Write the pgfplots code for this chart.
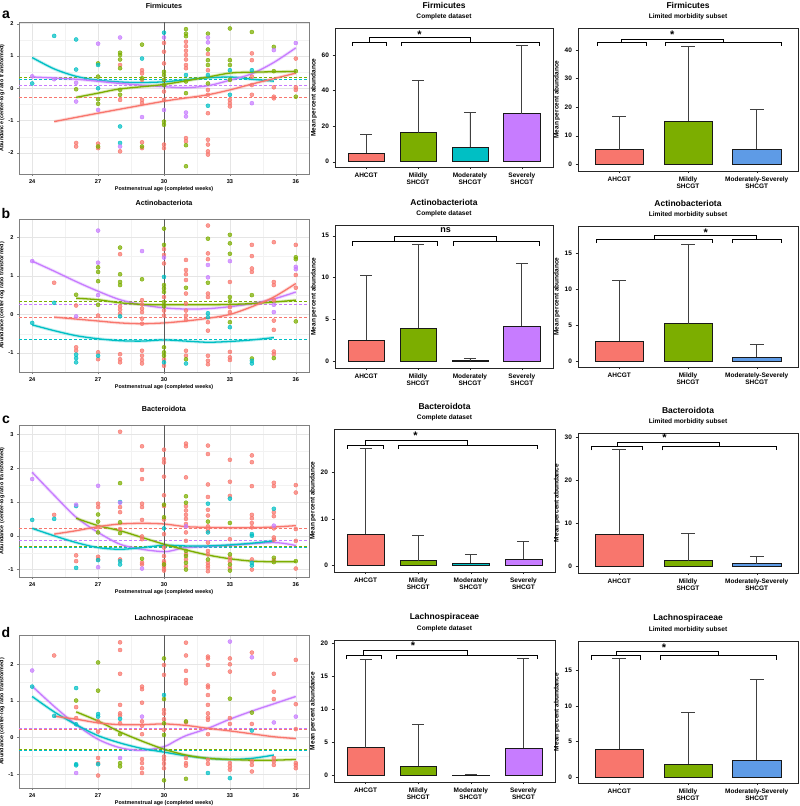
\documentclass[border=0pt]{standalone}
\usepackage{fontspec}
\setmainfont{Liberation Sans}
\usepackage{pgfplots}
\pgfplotsset{compat=1.18}

\definecolor{cR}{HTML}{F8766D}
\definecolor{cG}{HTML}{7CAE00}
\definecolor{cC}{HTML}{00BFC4}
\definecolor{cP}{HTML}{C77CFF}
\definecolor{cB}{HTML}{5E9BE6}

\pgfplotsset{
  sc/.style={
    scale only axis, width=290pt,
    xmin=23.4, xmax=36.6, xtick={24,27,30,33,36},
    minor x tick num=1, minor y tick num=1,
    grid=both, major grid style={black!10, line width=0.45pt},
    minor grid style={black!5, line width=0.3pt},
    axis line style={black!50}, tick style={black!50},
    tick align=outside, major tick length=2pt, minor tick length=0pt,
    xtick pos=left, ytick pos=left,
    tick label style={font=\fontsize{5.6}{6}\selectfont\bfseries},
    label style={font=\fontsize{5.4}{6}\selectfont\bfseries},
    xlabel={Postmenstrual age (completed weeks)},
    ylabel={Abundance (center-log ratio transformed)},
    xlabel style={yshift=4pt}, ylabel style={yshift=-3pt},
    title style={at={(0.5,1)}, anchor=center, yshift=10pt, font=\fontsize{7.2}{8}\selectfont\bfseries},
    /pgf/number format/assume math mode=true,
  },
  pt/.style={only marks, mark=*, mark size=2pt, mark options={draw=none, fill opacity=0.72}},
  cv/.style={smooth, line width=1.3pt, mark=none,
    preaction={draw, line width=3.2pt, draw opacity=0.25}},
  ds/.style={dash pattern=on 3pt off 2pt, line width=0.8pt, mark=none},
  vl/.style={black!65, line width=0.6pt, mark=none},
  bp/.style={
    scale only axis, ybar, bar width=0.7, clip=false,
    axis line style={black!85}, tick style={black!85},
    tick align=outside, major tick length=2.5pt,
    xtick pos=left, ytick pos=left,
    tick label style={font=\fontsize{6.5}{7}\selectfont\bfseries},
    xticklabel style={align=center},
    label style={font=\fontsize{6.5}{7}\selectfont\bfseries},
    ylabel={Mean percent abundance}, ylabel style={yshift=-2pt},
    /pgf/number format/assume math mode=true,
  },
  b4/.style={bp, xmin=0.4, xmax=4.6, xtick={1,2,3,4},
    xticklabels={AHCGT,{Mildly\\SHCGT},{Moderately\\SHCGT},{Severely\\SHCGT}}},
  b3/.style={bp, xmin=0.4, xmax=3.6, xtick={1,2,3},
    xticklabels={AHCGT,{Mildly\\SHCGT},{Moderately-Severely\\SHCGT}}},
  bb/.style={draw=black!90, line width=0.55pt, bar shift=0pt,
    error bars/y dir=plus, error bars/y explicit, error bars/error mark=|,
    error bars/error bar style={black!75, line width=0.8pt},
    error bars/error mark options={black!75, line width=0.8pt, mark size=#1}},
  brk/.style={sharp plot, black, line width=0.6pt, mark=none},
}
\newcommand{\brk}[4]{\addplot[brk] coordinates {(#1,#3)(#1,#4)(#2,#4)(#2,#3)};}
\newcommand{\ttl}[2]{%
  \node[font=\fontsize{8.5}{9}\selectfont\bfseries] at (rel axis cs:0.5,1) [yshift=23pt] {#1};
  \node[font=\fontsize{6.6}{7}\selectfont\bfseries] at (rel axis cs:0.5,1) [yshift=11pt] {#2};}
\newcommand{\sig}[3]{\node[font=\fontsize{11}{11}\selectfont\bfseries] at (axis cs:#1,#2) {#3};}

\begin{document}
\begin{tikzpicture}
\path[use as bounding box] (0pt,0pt) rectangle (800pt,806pt);
\node[font=\fontsize{14}{14}\selectfont\bfseries] at (6pt,791pt) {a};
\node[font=\fontsize{14}{14}\selectfont\bfseries] at (6pt,592pt) {b};
\node[font=\fontsize{14}{14}\selectfont\bfseries] at (6pt,386pt) {c};
\node[font=\fontsize{14}{14}\selectfont\bfseries] at (6pt,174pt) {d};

% ---------------- row a ----------------
\begin{axis}[sc, at={(19pt,632pt)}, anchor=south west, height=152pt,
  ymin=-2.65, ymax=2.05, ytick={-2,-1,0,1,2}, title={Firmicutes}]
\addplot[pt, cR] coordinates {(26,-1.69)(26,-1.8)(27,-1.71)(27,-1.85)(28,0.72)(28,-0.36)(28,-1.95)(29,0.56)(29,0.46)(29,0.26)(29,-0.36)(29,-0.46)(29,-1.67)(29,-1.85)(30,1.4)(30,1.13)(30,0.77)(30,-0.1)(30,-0.36)(30,-1.74)(30,-1.85)(31,1.44)(31,1.3)(31,1.16)(31,1.03)(31,0.89)(31,0.72)(31,0.62)(31,-1.54)(31,-1.64)(32,1.06)(32,0.56)(32,-0.05)(32,-0.2)(32,-0.77)(32,-1.59)(32,-1.74)(32,-1.95)(32,-2.05)(33,-0.36)(33,-0.46)(33,-0.56)(34,1.08)(34,0.87)(34,0.36)(34,0.1)(34,-0.2)(35,0.03)(35,-0.26)(35,-0.31)(36,0.92)(36,0.03)(36,-0.05)};
\addplot[pt, cG] coordinates {(26,-0.03)(27,0.77)(27,0.36)(27,-0.34)(27,-0.48)(27,-1.8)(28,1.1)(28,1.03)(28,0.89)(28,0.62)(28,-0.05)(28,-0.2)(29,1.35)(29,0.31)(29,-1.8)(30,0.51)(30,0.41)(30,0.26)(30,0.1)(30,-1.03)(30,-1.13)(31,1.83)(31,1.69)(31,1.61)(31,0.21)(31,-0.15)(31,-1.76)(31,-2.41)(32,1.69)(32,1.2)(32,0.87)(32,0.72)(32,0.15)(33,1.85)(33,0.87)(33,0.72)(33,0.26)(34,1.74)(35,1.28)(35,0.53)(36,0.53)(36,-0.26)};
\addplot[pt, cC] coordinates {(24,0.15)(25,1.62)(26,1.51)(26,0.58)(27,0.72)(27,0.0)(28,-1.18)(28,-1.69)(29,0.92)(30,1.72)(31,0.41)(32,0.41)(32,-0.54)(33,0.56)(33,-0.2)(34,0.56)};
\addplot[pt, cP] coordinates {(24,0.37)(25,0.28)(26,0.17)(26,-0.41)(27,1.38)(27,-0.67)(28,1.57)(28,-1.8)(29,-0.89)(30,1.57)(30,-0.67)(31,-0.75)(31,-0.87)(32,1.57)(32,1.42)(34,-0.46)(35,1.18)(36,1.4)};
\addplot[ds, cG] coordinates {(23.4,0.34)(36.6,0.34)};
\addplot[ds, cC] coordinates {(23.4,0.27)(36.6,0.27)};
\addplot[ds, cP] coordinates {(23.4,0.1)(36.6,0.1)};
\addplot[ds, cR] coordinates {(23.4,-0.27)(36.6,-0.27)};
\addplot[cv, cC] coordinates {(24,0.95)(25,0.6)(26,0.37)(27,0.25)(28.5,0.18)(30,0.2)(31.5,0.3)(33,0.35)(34,0.28)(35,0.22)};
\addplot[cv, cP] coordinates {(24,0.35)(26,0.28)(28,0.15)(30,0.05)(31,0.02)(32,0.08)(33,0.25)(34,0.45)(35,0.8)(36,1.25)};
\addplot[cv, cG] coordinates {(26,-0.28)(27,-0.15)(28,-0.02)(30,0.12)(32,0.35)(33,0.47)(34,0.5)(36,0.52)};
\addplot[cv, cR] coordinates {(25,-1.03)(27,-0.77)(30,-0.4)(31,-0.3)(32,-0.2)(33,-0.05)(34,0.13)(35,0.3)(36,0.47)};
\addplot[vl] coordinates {(30,-2.65)(30,2.05)};
\end{axis}

\begin{axis}[b4, at={(335pt,639pt)}, anchor=south west, width=218pt, height=139pt,
  ymin=-3, ymax=75.2, ytick={0,20,40,60}]
\ttl{Firmicutes}{Complete dataset}
\addplot[bb=6pt, fill=cR] coordinates {(1,4.8) +- (0,10.7)};
\addplot[bb=6pt, fill=cG] coordinates {(2,16.3) +- (0,29.5)};
\addplot[bb=6pt, fill=cC] coordinates {(3,8.3) +- (0,19.3)};
\addplot[bb=6pt, fill=cP] coordinates {(4,27) +- (0,38.3)};
\brk{0.73}{1.39}{65}{67.1}
\brk{1.68}{4.34}{65}{67.1}
\brk{1.06}{3.01}{67.1}{69.7}
\sig{2.03}{71.3}{*}
\end{axis}

\begin{axis}[b3, at={(578pt,635pt)}, anchor=south west, width=220pt, height=143pt,
  ymin=-2.35, ymax=47.7, ytick={0,10,20,30,40}]
\ttl{Firmicutes}{Limited morbidity subset}
\addplot[bb=6.8pt, fill=cR] coordinates {(1,5.1) +- (0,11.6)};
\addplot[bb=6.8pt, fill=cG] coordinates {(2,15.1) +- (0,26.2)};
\addplot[bb=6.8pt, fill=cB] coordinates {(3,5.4) +- (0,13.9)};
\brk{0.674}{1.39}{41.4}{42.7}
\brk{1.67}{3.36}{41.4}{42.7}
\brk{1.03}{2.515}{42.7}{43.9}
\sig{1.77}{45.4}{*}
\end{axis}

% ---------------- row b ----------------
\begin{axis}[sc, at={(19pt,434pt)}, anchor=south west, height=153pt,
  ymin=-1.49, ymax=2.47, ytick={-1,0,1,2}, title={Actinobacteriota}]
\addplot[pt, cR] coordinates {(25,0.82)(26,0.23)(26,-0.85)(26,-0.94)(27,-0.03)(27,-0.98)(27,-1.16)(28,1.56)(28,0.21)(28,0.12)(28,0.02)(28,-1.03)(28,-1.16)(28,-1.24)(29,0.37)(29,0.26)(29,0.15)(29,0.06)(29,-0.11)(29,-0.24)(29,-0.94)(29,-1.07)(29,-1.18)(29,-1.27)(30,1.69)(30,1.54)(30,1.32)(30,0.45)(30,0.1)(30,-0.03)(30,-1.16)(30,-1.33)(31,1.41)(31,1.15)(31,1.04)(31,0.89)(31,0.54)(31,0.28)(31,0.1)(31,-0.03)(31,-0.14)(31,-0.94)(31,-1.07)(32,2.3)(32,1.58)(32,1.43)(32,0.54)(32,0.45)(32,-0.2)(32,-0.42)(32,-1.07)(32,-1.2)(32,-1.29)(33,0.84)(33,0.19)(33,0.06)(33,-0.97)(33,-1.11)(33,-1.18)(34,1.8)(34,1.51)(34,1.19)(34,1.1)(35,1.87)(35,0.84)(35,0.76)(35,0.37)(35,-0.16)(35,-0.4)(35,-0.96)(35,-1.03)(36,1.8)(36,1.02)(36,0.69)};
\addplot[pt, cG] coordinates {(26,0.51)(27,1.22)(27,1.1)(27,0.86)(27,0.25)(28,1.73)(28,1.04)(28,0.84)(28,0.76)(29,0.91)(30,2.22)(30,1.8)(30,0.76)(30,0.67)(30,0.58)(30,0.32)(30,0.21)(30,-0.85)(30,-0.98)(30,-1.07)(31,0.69)(31,-1.16)(32,1.96)(32,0.82)(33,2.06)(33,1.84)(33,1.57)(33,0.45)(33,0.34)(33,-0.2)(34,0.5)(34,-1.14)(35,-1.13)(36,1.48)(36,1.43)(36,-0.18)};
\addplot[pt, cC] coordinates {(24,-0.22)(25,0.3)(26,-1.04)(26,-1.13)(26,-1.24)(27,-1.07)(28,-0.05)(30,0.97)(30,-1.24)(31,-1.27)(32,0.03)(32,-0.07)(33,-0.33)(34,-1.2)(34,-1.27)};
\addplot[pt, cP] coordinates {(24,1.38)(26,-0.05)(27,2.17)(27,1.34)(27,0.5)(29,1.64)(30,1.47)(32,1.28)(32,0.96)(33,1.38)(35,0.25)(35,0.06)(36,1.23)(36,1.17)};
\addplot[ds, cG] coordinates {(23.4,0.35)(36.6,0.35)};
\addplot[ds, cP] coordinates {(23.4,0.26)(36.6,0.26)};
\addplot[ds, cR] coordinates {(23.4,-0.07)(36.6,-0.07)};
\addplot[ds, cC] coordinates {(23.4,-0.65)(36.6,-0.65)};
\addplot[cv, cP] coordinates {(24,1.38)(25,1.12)(26,0.85)(27,0.6)(28,0.38)(29,0.25)(30,0.17)(31,0.14)(32,0.15)(33,0.2)(34,0.28)(35,0.4)(36,0.58)};
\addplot[cv, cG] coordinates {(26,0.42)(27,0.38)(28,0.3)(29,0.26)(30,0.25)(32,0.25)(33,0.26)(34,0.28)(35,0.32)(36,0.37)};
\addplot[cv, cR] coordinates {(25,-0.07)(26,-0.12)(27,-0.17)(28,-0.22)(29,-0.24)(30,-0.22)(31,-0.17)(32,-0.1)(33,0.0)(34,0.2)(35,0.45)(36,0.8)};
\addplot[cv, cC] coordinates {(24,-0.27)(25,-0.42)(26,-0.55)(27,-0.63)(28,-0.68)(29,-0.69)(30,-0.66)(31,-0.69)(32,-0.72)(33,-0.7)(34,-0.66)(35,-0.6)};
\addplot[vl] coordinates {(30,-1.49)(30,2.47)};
\end{axis}

\begin{axis}[b4, at={(335pt,438pt)}, anchor=south west, width=218pt, height=143pt,
  ymin=-0.79, ymax=16.27, ytick={0,5,10,15}]
\ttl{Actinobacteriota}{Complete dataset}
\addplot[bb=6pt, fill=cR] coordinates {(1,2.5) +- (0,7.8)};
\addplot[bb=6pt, fill=cG] coordinates {(2,4.0) +- (0,9.9)};
\addplot[bb=6pt, fill=cC] coordinates {(3,0.1) +- (0,0.25)};
\addplot[bb=6pt, fill=cP] coordinates {(4,4.2) +- (0,7.5)};
\brk{0.73}{2.38}{13.8}{14.3}
\brk{2.67}{4.34}{13.8}{14.3}
\brk{1.55}{3.5}{14.3}{14.96}
\node[font=\fontsize{9}{9}\selectfont\bfseries] at (axis cs:2.53,15.6) {ns};
\end{axis}

\begin{axis}[b3, at={(578pt,439pt)}, anchor=south west, width=220pt, height=141pt,
  ymin=-0.84, ymax=18.8, ytick={0,5,10,15}]
\ttl{Actinobacteriota}{Limited morbidity subset}
\addplot[bb=6.8pt, fill=cR] coordinates {(1,2.8) +- (0,8.4)};
\addplot[bb=6.8pt, fill=cG] coordinates {(2,5.2) +- (0,11.1)};
\addplot[bb=6.8pt, fill=cB] coordinates {(3,0.55) +- (0,1.75)};
\brk{0.67}{2.35}{16.4}{16.9}
\brk{2.64}{3.36}{16.4}{16.9}
\brk{1.51}{3.0}{16.9}{17.45}
\sig{2.26}{17.9}{*}
\end{axis}

% ---------------- row c ----------------
\begin{axis}[sc, at={(19pt,229pt)}, anchor=south west, height=152pt,
  ymin=-1.22, ymax=3.28, ytick={-1,0,1,2,3}, title={Bacteroidota}]
\addplot[pt, cR] coordinates {(25,0.62)(26,-0.58)(26,-0.75)(27,0.95)(27,0.85)(27,0.25)(27,-0.62)(27,-0.7)(28,3.08)(28,0.85)(28,0.7)(28,0.2)(28,-0.7)(29,2.65)(29,1.95)(29,1.68)(29,0.95)(29,0.85)(29,0.47)(29,-0.02)(29,-0.1)(29,-0.8)(29,-0.85)(30,2.55)(30,2.27)(30,2.17)(30,1.75)(30,1.2)(30,0.88)(30,0.48)(30,0.05)(30,-0.35)(30,-0.6)(30,-0.75)(30,-0.8)(30,-0.9)(30,-0.98)(30,-1.03)(31,2.73)(31,2.65)(31,1.73)(31,0.88)(31,0.75)(31,0.62)(31,0.5)(31,0.35)(31,0.1)(31,-0.15)(31,-0.55)(31,-0.7)(31,-0.9)(32,2.67)(32,2.42)(32,1.52)(32,1.15)(32,0.77)(32,0.6)(32,0.28)(32,0.15)(32,-0.2)(32,-0.45)(32,-0.55)(32,-0.8)(32,-0.88)(32,-0.95)(32,-1.05)(33,2.25)(33,1.6)(33,1.18)(33,-0.1)(33,-0.65)(33,-0.75)(33,-0.95)(34,2.38)(34,2.18)(34,1.47)(34,0.62)(34,0.52)(34,0.38)(34,0.25)(34,-0.7)(34,-1.0)(35,1.57)(35,1.47)(35,0.7)(35,0.58)(35,0.22)(35,-0.05)(35,-0.12)(35,-0.72)(36,1.5)(36,1.28)(36,0.2)(36,-0.15)(36,-0.97)};
\addplot[pt, cG] coordinates {(27,0.63)(27,0.42)(27,0.1)(28,1.56)(28,0.4)(28,0.08)(29,-0.68)(30,0.92)(30,0.55)(30,-0.85)(31,1.17)(31,0.98)(31,-0.45)(31,-0.6)(31,-0.8)(31,-1.0)(32,0.42)(32,-0.7)(33,0.38)(33,-0.55)(33,-0.85)(33,-1.03)(35,-0.65)(35,-0.78)(36,-0.75)};
\addplot[pt, cC] coordinates {(24,0.47)(25,0.5)(26,0.88)(26,-0.95)(27,-0.72)(28,1.0)(28,-0.75)(28,-0.85)(30,0.22)(32,0.95)(32,0.1)(33,1.1)(34,0.05)(34,0.0)(34,-0.8)(34,-0.88)(35,0.8)};
\addplot[pt, cP] coordinates {(24,1.68)(26,0.92)(27,1.48)(27,-0.93)(28,0.98)(29,-0.97)(31,0.28)(35,0.3)};
\addplot[ds, cR] coordinates {(23.4,0.22)(36.6,0.22)};
\addplot[ds, cP] coordinates {(23.4,-0.14)(36.6,-0.14)};
\addplot[ds, cC] coordinates {(23.4,-0.34)(36.6,-0.34)};
\addplot[ds, cG] coordinates {(23.4,-0.32)(36.6,-0.32)};
\addplot[cv, cP] coordinates {(24,1.88)(25,1.2)(26,0.55)(27,0.1)(28,-0.25)(29,-0.4)(30,-0.47)(30.5,-0.42)(31,-0.35)(33,-0.28)(35,-0.2)(36,-0.29)};
\addplot[cv, cC] coordinates {(24,0.22)(25,0.0)(26,-0.2)(27,-0.35)(28,-0.4)(29,-0.35)(30,-0.28)(31,-0.3)(32,-0.3)(33,-0.27)(34,-0.22)(35,-0.15)};
\addplot[cv, cG] coordinates {(26,0.52)(27,0.3)(28,0.15)(29,-0.05)(30,-0.25)(31,-0.42)(32,-0.57)(33,-0.68)(34,-0.75)(35,-0.77)(36,-0.77)};
\addplot[cv, cR] coordinates {(25,0.05)(26,0.15)(27,0.27)(28,0.35)(29,0.37)(30,0.35)(31,0.27)(32,0.25)(33,0.24)(34,0.24)(35,0.26)(36,0.3)};
\addplot[vl] coordinates {(30,-1.22)(30,3.28)};
\end{axis}

\begin{axis}[b4, at={(334pt,234pt)}, anchor=south west, width=221pt, height=143pt,
  ymin=-1.44, ymax=29.3, ytick={0,10,20}]
\ttl{Bacteroidota}{Complete dataset}
\addplot[bb=6pt, fill=cR] coordinates {(1,6.7) +- (0,18.5)};
\addplot[bb=6pt, fill=cG] coordinates {(2,1.0) +- (0,5.5)};
\addplot[bb=6pt, fill=cC] coordinates {(3,0.5) +- (0,1.8)};
\addplot[bb=6pt, fill=cP] coordinates {(4,1.3) +- (0,3.9)};
\brk{0.66}{1.33}{25.0}{25.9}
\brk{1.62}{4.26}{25.0}{25.9}
\brk{0.995}{2.94}{25.9}{26.9}
\sig{1.95}{27.8}{*}
\end{axis}

\begin{axis}[b3, at={(578pt,233pt)}, anchor=south west, width=220pt, height=140pt,
  ymin=-1.54, ymax=30.9, ytick={0,10,20,30}]
\ttl{Bacteroidota}{Limited morbidity subset}
\addplot[bb=6.8pt, fill=cR] coordinates {(1,7.4) +- (0,19.6)};
\addplot[bb=6.8pt, fill=cG] coordinates {(2,1.3) +- (0,6.4)};
\addplot[bb=6.8pt, fill=cB] coordinates {(3,0.6) +- (0,1.7)};
\brk{0.6}{1.33}{26.9}{27.9}
\brk{1.62}{3.29}{26.9}{27.9}
\brk{0.965}{2.455}{27.9}{28.7}
\sig{1.66}{29.8}{*}
\end{axis}

% ---------------- row d ----------------
\begin{axis}[sc, at={(19pt,18pt)}, anchor=south west, height=153pt,
  ymin=-1.38, ymax=2.8, ytick={-1,0,1,2}, title={Lachnospiraceae}]
\addplot[pt, cR] coordinates {(25,2.24)(26,0.83)(26,0.53)(27,0.44)(27,0.16)(27,-0.56)(27,-0.7)(27,-1.04)(28,2.6)(28,2.39)(28,1.74)(28,0.89)(28,0.66)(28,0.6)(28,0.39)(29,1.39)(29,1.32)(29,0.95)(29,0.44)(29,0.32)(29,0.09)(29,-0.59)(29,-0.7)(29,-0.84)(29,-0.97)(30,1.98)(30,1.71)(30,0.75)(30,0.65)(30,0.5)(30,0.21)(30,-0.52)(30,-0.61)(30,-0.72)(30,-0.84)(31,2.59)(31,2.24)(31,1.82)(31,1.57)(31,1.48)(31,0.41)(31,-0.56)(31,-0.7)(31,-0.77)(32,2.21)(32,2.16)(32,1.98)(32,1.42)(32,1.37)(32,1.16)(32,0.89)(32,0.66)(32,0.55)(32,0.48)(32,0.09)(32,-0.61)(32,-0.72)(33,2.16)(33,2.0)(33,1.8)(33,0.53)(33,0.37)(33,-0.7)(33,-0.79)(33,-0.88)(34,2.32)(34,0.37)(34,-0.65)(34,-0.75)(34,-0.93)(35,1.74)(35,1.25)(35,1.05)(35,-0.56)(35,-0.65)(35,-0.75)(36,2.12)(36,0.91)(36,0.23)(36,-0.7)(36,-0.76)(36,-0.84)};
\addplot[pt, cG] coordinates {(26,1.01)(27,2.05)(27,1.28)(28,0.09)(28,-0.7)(28,-0.79)(30,2.16)(30,1.05)(30,0.39)(30,0.07)(30,-1.17)(31,0.44)(31,-1.13)(33,1.06)(34,0.68)};
\addplot[pt, cC] coordinates {(24,1.39)(25,0.59)(26,1.35)(26,0.36)(26,-0.73)(26,-0.76)(27,0.64)(27,0.57)(27,-0.73)(28,0.51)(30,1.16)(32,-0.97)(33,-1.11)(34,0.19)};
\addplot[pt, cP] coordinates {(24,1.83)(26,-0.97)(28,-0.56)(29,0.57)(33,2.62)(34,2.19)(35,0.41)(36,0.57)};
\addplot[ds, cP] coordinates {(23.4,0.24)(36.6,0.24)};
\addplot[ds, cR] coordinates {(23.4,0.23)(36.6,0.23)};
\addplot[ds, cG] coordinates {(23.4,-0.33)(36.6,-0.33)};
\addplot[ds, cC] coordinates {(23.4,-0.34)(36.6,-0.34)};
\addplot[cv, cP] coordinates {(24,1.4)(25,0.85)(26,0.35)(27,-0.05)(28,-0.28)(29,-0.35)(30,-0.25)(30.5,-0.1)(31,0.05)(32,0.25)(33,0.5)(34,0.72)(35,0.92)(36,1.12)};
\addplot[cv, cC] coordinates {(24,1.12)(25,0.7)(26,0.35)(27,0.05)(28,-0.15)(29,-0.3)(30,-0.4)(31,-0.5)(32,-0.57)(33,-0.6)(34,-0.57)(35,-0.48)};
\addplot[cv, cG] coordinates {(26,0.7)(27,0.45)(28,0.15)(29,-0.1)(30,-0.32)(31,-0.48)(32,-0.57)(33,-0.6)(34,-0.62)(35,-0.62)(36,-0.6)};
\addplot[cv, cR] coordinates {(25,0.58)(26,0.5)(27,0.4)(28,0.35)(29,0.35)(30,0.37)(31,0.33)(32,0.25)(33,0.18)(34,0.1)(35,0.02)(36,-0.03)};
\addplot[vl] coordinates {(30,-1.38)(30,2.8)};
\end{axis}

\begin{axis}[b4, at={(334pt,24pt)}, anchor=south west, width=221pt, height=142pt,
  ymin=-1.0, ymax=20.5, ytick={0,5,10,15,20}]
\ttl{Lachnospiraceae}{Complete dataset}
\addplot[bb=6pt, fill=cR] coordinates {(1,4.2) +- (0,13.4)};
\addplot[bb=6pt, fill=cG] coordinates {(2,1.4) +- (0,6.3)};
\addplot[bb=6pt, fill=cC] coordinates {(3,0.08) +- (0,0.12)};
\addplot[bb=6pt, fill=cP] coordinates {(4,4.1) +- (0,13.6)};
\brk{0.63}{1.3}{17.6}{18.2}
\brk{1.59}{4.26}{17.6}{18.2}
\brk{0.965}{2.925}{18.2}{18.9}
\sig{1.9}{19.6}{*}
\end{axis}

\begin{axis}[b3, at={(578pt,23pt)}, anchor=south west, width=220pt, height=142pt,
  ymin=-0.84, ymax=19.1, ytick={0,5,10,15}]
\ttl{Lachnospiraceae}{Limited morbidity subset}
\addplot[bb=6.8pt, fill=cR] coordinates {(1,3.9) +- (0,12.7)};
\addplot[bb=6.8pt, fill=cG] coordinates {(2,1.85) +- (0,7.25)};
\addplot[bb=6.8pt, fill=cB] coordinates {(3,2.4) +- (0,11.3)};
\brk{0.59}{1.31}{16.5}{17.1}
\brk{1.59}{3.28}{16.5}{17.1}
\brk{0.95}{2.435}{17.1}{17.7}
\sig{1.65}{18.2}{*}
\end{axis}
\end{tikzpicture}
\end{document}
